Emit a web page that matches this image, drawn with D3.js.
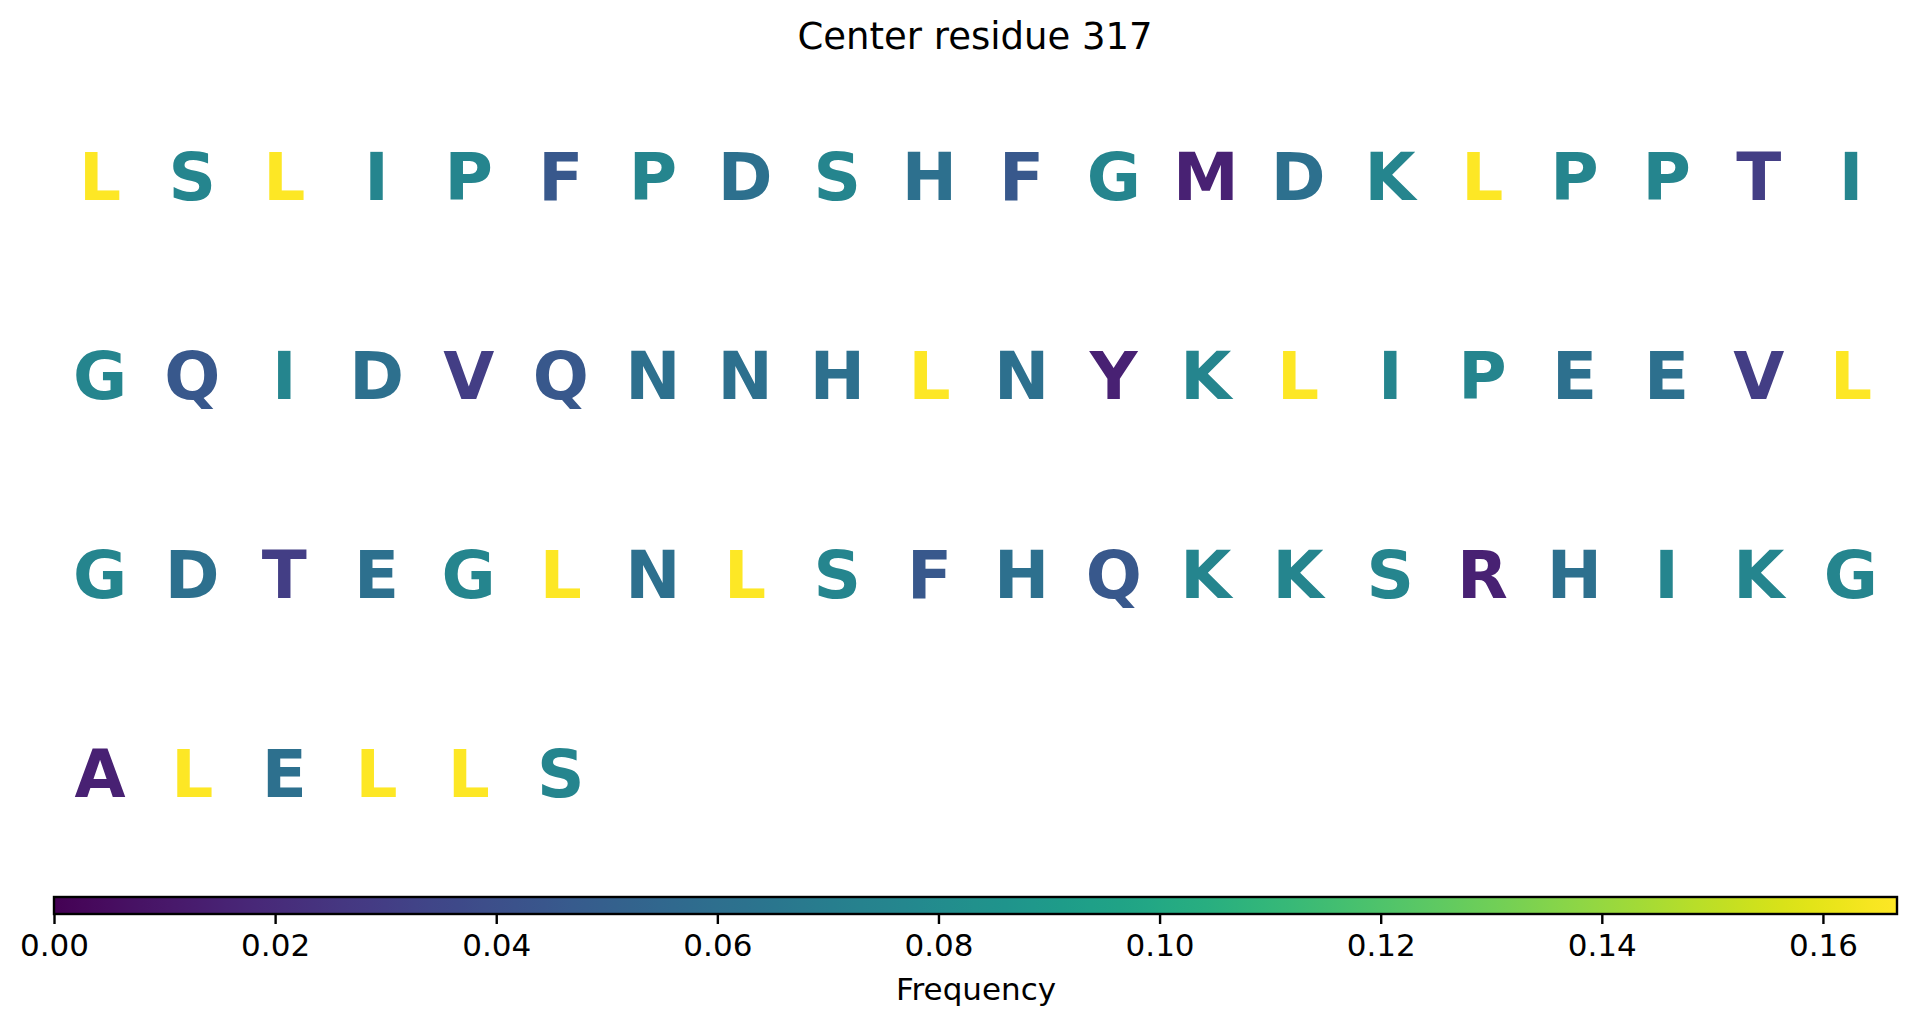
<!DOCTYPE html>
<html>
<head>
<meta charset="utf-8">
<script src="https://cdn.jsdelivr.net/npm/d3@7"></script>
<style>
  html, body { margin: 0; padding: 0; background: #fff; }
  svg { display: block; }
</style>
</head>
<body>
<svg id="chart" width="1917" height="1025"></svg>
<script>
// ---- data ----
const title = "Center residue 317";
const sequence = [
  "L","S","L","I","P","F","P","D","S","H","F","G","M","D","K","L","P","P","T","I",
  "G","Q","I","D","V","Q","N","N","H","L","N","Y","K","L","I","P","E","E","V","L",
  "G","D","T","E","G","L","N","L","S","F","H","Q","K","K","S","R","H","I","K","G",
  "A","L","E","L","L","S"
];
const residueLetters = ["L","S","I","P","F","D","H","G","M","K","T","Q","V","N","Y","E","R","A"];
const residueFreqs   = [0.1667,0.0758,0.0758,0.0758,0.0455,0.0606,0.0606,0.0758,0.0152,0.0758,0.0303,0.0455,0.0303,0.0606,0.0152,0.0606,0.0152,0.0152];
const colorbarTicks = [0.00,0.02,0.04,0.06,0.08,0.10,0.12,0.14,0.16];
const colorbarMax = 0.1667;
const colorbarLabel = "Frequency";
const perRow = 20;

// ---- layout ----
const W = 1917, H = 1025;
const left = 54, right = 1897;
const svg = d3.select("#chart");

const freqOf = new Map(residueLetters.map((l, i) => [l, residueFreqs[i]]));
const color = d3.scaleSequential(d3.interpolateViridis).domain([0, colorbarMax]);

const nRows = Math.ceil(sequence.length / perRow);
const x = d3.scaleLinear().domain([0, perRow]).range([left, right]);
const y = d3.scaleLinear().domain([0, nRows - 1]).range([199.5, 796.5]);

// title
svg.append("text")
  .attr("x", 975).attr("y", 49)
  .attr("text-anchor", "middle")
  .style("font-family", "'DejaVu Sans', sans-serif")
  .style("font-size", "37px")
  .attr("fill", "#000")
  .text(title);

// letters
svg.append("g").selectAll("text")
  .data(sequence.map((l, i) => ({ l, i })))
  .join("text")
  .attr("x", d => x((d.i % perRow) + 0.5))
  .attr("y", d => y(Math.floor(d.i / perRow)))
  .attr("text-anchor", "middle")
  .style("font-family", "'DejaVu Sans', sans-serif")
  .style("font-weight", "bold")
  .style("font-size", "66px")
  .attr("fill", d => color(freqOf.get(d.l)))
  .text(d => d.l);

// colorbar
const cb = d3.scaleLinear().domain([0, colorbarMax]).range([left, right]);
const defs = svg.append("defs");
const grad = defs.append("linearGradient").attr("id", "viridisGrad")
  .attr("x1", "0%").attr("x2", "100%").attr("y1", "0%").attr("y2", "0%");
d3.range(0, 1.0001, 1 / 64).forEach(t => {
  grad.append("stop").attr("offset", (t * 100) + "%").attr("stop-color", d3.interpolateViridis(t));
});
const cbTop = 897, cbH = 17;
svg.append("rect")
  .attr("x", left).attr("y", cbTop)
  .attr("width", right - left).attr("height", cbH)
  .attr("fill", "url(#viridisGrad)")
  .attr("stroke", "#000").attr("stroke-width", 2.4);

const axis = d3.axisBottom(cb).tickValues(colorbarTicks).tickFormat(d3.format(".2f")).tickSize(10).tickPadding(10);
const ag = svg.append("g").attr("transform", `translate(0,${cbTop + cbH})`).call(axis);
ag.select(".domain").remove();
ag.selectAll(".tick line").attr("stroke", "#000").attr("stroke-width", 2.4);
ag.selectAll(".tick text")
  .attr("fill", "#000")
  .style("font-family", "'DejaVu Sans', sans-serif")
  .style("font-size", "31px");

svg.append("text")
  .attr("x", 976).attr("y", 1000)
  .attr("text-anchor", "middle")
  .style("font-family", "'DejaVu Sans', sans-serif")
  .style("font-size", "31px")
  .attr("fill", "#000")
  .text(colorbarLabel);
</script>
</body>
</html>
